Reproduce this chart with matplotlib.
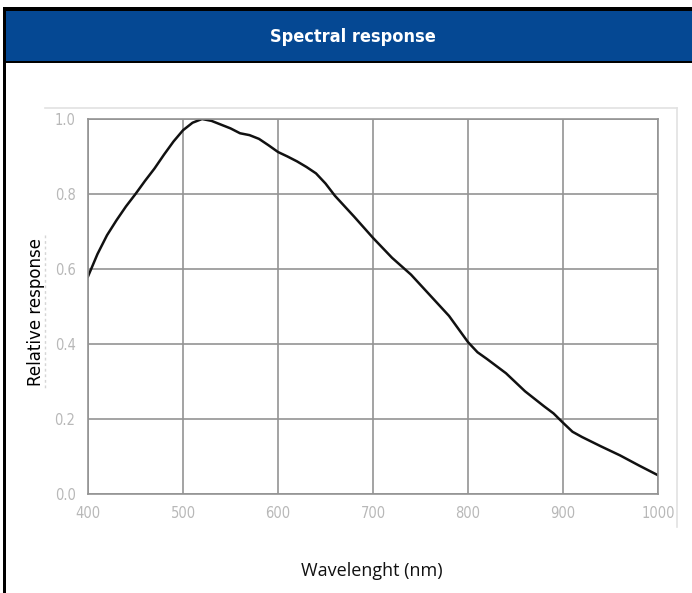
import numpy as np
import matplotlib
matplotlib.use("Agg")
import matplotlib.pyplot as plt
from matplotlib.patches import Rectangle
from matplotlib.lines import Line2D

# spectral response
wavelength = [400, 410, 420, 430, 440, 450, 460, 470, 480, 490, 500, 510, 520, 530,
              540, 550, 560, 570, 580, 590, 600, 610, 620, 630, 640, 650, 660, 680,
              700, 720, 740, 760, 780, 800, 810, 820, 840, 860, 880, 890, 900, 910,
              920, 940, 960, 980, 1000]
response = [0.58, 0.64, 0.69, 0.73, 0.767, 0.80, 0.835, 0.868, 0.905, 0.94, 0.97,
            0.99, 1.0, 0.995, 0.985, 0.975, 0.962, 0.957, 0.947, 0.93, 0.912, 0.9,
            0.887, 0.872, 0.855, 0.828, 0.795, 0.74, 0.683, 0.63, 0.585, 0.53,
            0.475, 0.405, 0.378, 0.36, 0.322, 0.274, 0.234, 0.215, 0.19, 0.166,
            0.152, 0.127, 0.103, 0.076, 0.05]

xticks = [400, 500, 600, 700, 800, 900, 1000]
yticks = [0.0, 0.2, 0.4, 0.6, 0.8, 1.0]
ylabels = ["0.0", "0.2", "0.4", "0.6", "0.8", "1.0"]

W, H = 692, 593
fig = plt.figure(figsize=(W / 100, H / 100), dpi=100)
fig.patch.set_facecolor("white")

def fx(px):
    return px / W

def fy(py):
    return 1 - py / H

# header bar with black borders
fig.add_artist(Rectangle((fx(3), fy(63)), 1, fy(7) - fy(63), transform=fig.transFigure,
                         facecolor="black", edgecolor="none"))
fig.add_artist(Rectangle((fx(6), fy(61)), 1, fy(11) - fy(61), transform=fig.transFigure,
                         facecolor="#054893", edgecolor="none"))
fig.add_artist(Rectangle((fx(3), 0), fx(3), fy(7), transform=fig.transFigure,
                         facecolor="black", edgecolor="none"))
fig.text(0.51, fy(37), "Spectral response", color="white", fontsize=13,
         fontweight="bold", ha="center", va="center", fontstretch="condensed")

# faint frame of the pasted chart
fig.add_artist(Line2D([fx(45), fx(677)], [fy(108), fy(108)], transform=fig.transFigure,
                      color="#e2e2e2", lw=1.2))
fig.add_artist(Line2D([fx(677), fx(677)], [fy(108), fy(527)], transform=fig.transFigure,
                      color="#e2e2e2", lw=1.2))
fig.add_artist(Line2D([fx(45), fx(45)], [fy(235), fy(388)], transform=fig.transFigure,
                      color="#d5d5d5", lw=1, ls=(0, (2, 2))))

ax = fig.add_axes([fx(88), fy(494), fx(658) - fx(88), fy(119) - fy(494)])
ax.plot(wavelength, response, color="#111111", lw=1.8, solid_joinstyle="round")
ax.set_xlim(400, 1000)
ax.set_ylim(0, 1.0)
ax.set_xticks(xticks)
ax.set_yticks(yticks)
ax.set_yticklabels(ylabels)
ax.grid(True, color="#939393", lw=1.2)
ax.set_axisbelow(True)
for s in ax.spines.values():
    s.set_color("#939393")
    s.set_linewidth(1.2)
ax.tick_params(length=0, pad=9, colors="#b8b8b8", labelsize=10.5)
for lab in ax.get_xticklabels() + ax.get_yticklabels():
    lab.set_family(["Liberation Sans Narrow", "DejaVu Sans"])
    lab.set_fontstretch("condensed")

fig.text(0.052, fy(312), "Relative response", rotation=90, fontsize=12,
         ha="center", va="center", color="black", family="DejaVu Sans")
fig.text(fx(372), fy(571), "Wavelenght (nm)", fontsize=13, ha="center",
         va="center", color="#111111", family="Open Sans")

fig.savefig("out.png", dpi=100)
